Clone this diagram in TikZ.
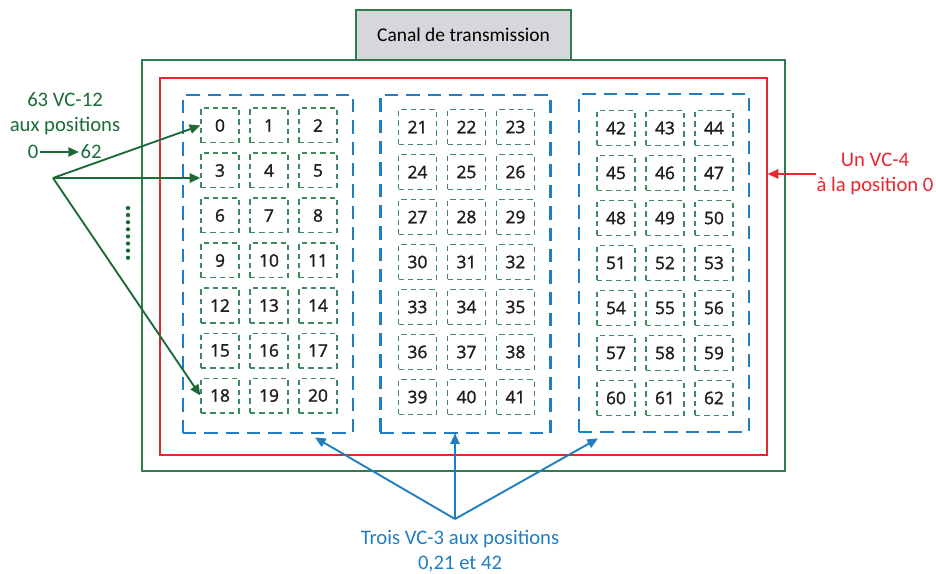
\documentclass[tikz,border=0pt]{standalone}
\usepackage{fontspec}
\setmainfont{Carlito}
\newfontfamily\numfont[FakeBold=1.6]{Open Sans}
\usetikzlibrary{arrows.meta,calc}
\definecolor{chgreen}{HTML}{2E7D4F}
\definecolor{lblgreen}{HTML}{1B6B38}
\definecolor{vcred}{HTML}{E8262D}
\definecolor{vcblue}{HTML}{1F7EC1}
\definecolor{boxgreen}{HTML}{3F8A5C}
\definecolor{canalgray}{HTML}{D6D7DA}
\tikzset{
  vcbox/.style={draw=boxgreen, line width=1pt, dash pattern=on 4pt off 3pt,
    minimum width=28.5pt, minimum height=26pt, inner sep=0pt,
    font=\numfont\fontsize{13}{15}\selectfont, text=black!88},
  vcblock/.style={draw=vcblue, line width=2.2pt, dash pattern=on 10pt off 6pt,
    inner sep=0pt},
  lbl/.style={font=\fontsize{15.5}{18.5}\selectfont, align=center, inner sep=1pt},
  grarrow/.style={draw=lblgreen, line width=1.4pt, -{Triangle[length=8pt,width=7pt]}},
}
\newcommand{\drawvcblock}[3]{
  \foreach \r in {0,...,6}{
    \foreach \c in {0,...,2}{
      \pgfmathtruncatemacro{\n}{21*#1+3*\r+\c}
      \node[vcbox] (c\n) at (220+#2+49*\c, 125.5+#3+45*\r) {\n};
    }
  }
}

\begin{document}
\begin{tikzpicture}[x=0.75pt, y=-0.75pt]
  \useasboundingbox (0,0) rectangle (936,574);

  \node[draw=chgreen, line width=1.5pt, minimum width=482pt, minimum height=308pt,
    inner sep=0pt] (trans) at (463.5,265.5) {};
  \node[draw=vcred, line width=1.2pt, minimum width=455pt, minimum height=283pt,
    inner sep=0pt] (vc4) at (463.5,266.5) {};
  \node[draw=chgreen, fill=canalgray, line width=1.5pt, minimum width=161pt,
    minimum height=37.5pt, font=\fontsize{14.6}{17}\selectfont] (canal) at (463.5,35)
    {Canal de transmission};

  \node[vcblock, minimum width=127.5pt, minimum height=253.5pt] (b1) at (268,264) {};
  \node[vcblock, minimum width=128pt, minimum height=253.5pt] (b2) at (465.5,264) {};
  \node[vcblock, minimum width=127.5pt, minimum height=253.5pt] (b3) at (664,263) {};

  \drawvcblock{0}{0}{0}
  \drawvcblock{1}{197.5}{1.5}
  \drawvcblock{2}{396}{2.5}

  % VC-12
  \node[lbl, text=lblgreen] (l12) at (65,114) {63 VC-12\\aux positions};
  \node[lbl, text=lblgreen] (p0) at (33,152) {0};
  \node[lbl, text=lblgreen] (p62) at (91,152) {62};
  \draw[grarrow] (p0) -- (p62);
  \coordinate (src) at (53,178);
  \draw[grarrow] (src) -- (c0.west);
  \draw[grarrow] (src) -- (src -| c3.west);
  \draw[grarrow] (src) -- (c18.west);
  \foreach \i in {0,...,7}
    \fill[lblgreen] (128,208+7.1*\i) circle (1.6pt);

  % VC-4
  \node[lbl, text=vcred] (lvc4) at (875,174) {Un VC-4\\à la position 0};
  \draw[draw=vcred, line width=1.2pt, -{Triangle[length=8pt,width=7pt]}]
    ([xshift=1pt]lvc4.west) -- (lvc4.west -| vc4.east);

  % VC-3
  \node[lbl, text=vcblue] (lvc3) at (460,551) {Trois VC-3 aux positions\\0,21 et 42};
  \coordinate (src3) at (455,519);
  \draw[draw=vcblue, line width=1.4pt, -{Triangle[length=8pt,width=7pt]}]
    (src3) -- ($(b1.south)+(47,3)$);
  \draw[draw=vcblue, line width=1.4pt, -{Triangle[length=8pt,width=7pt]}]
    (src3) -- (src3 |- b2.south) -- ++(0,-1);
  \draw[draw=vcblue, line width=1.4pt, -{Triangle[length=8pt,width=7pt]}]
    (src3) -- ($(b3.south)+(-66,5)$);
\end{tikzpicture}
\end{document}
